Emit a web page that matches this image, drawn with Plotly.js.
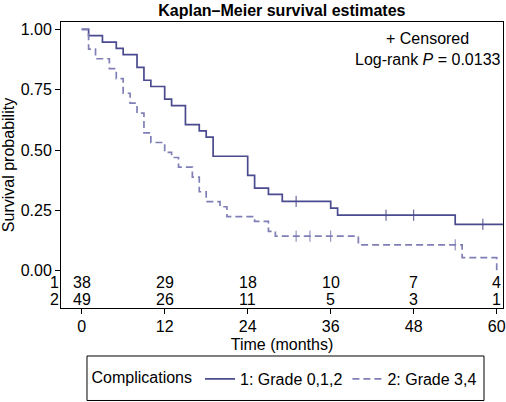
<!DOCTYPE html>
<html>
<head>
<meta charset="utf-8">
<script src="https://cdn.plot.ly/plotly-3.0.1.min.js"></script>
<style>
html,body{margin:0;padding:0;background:#fff;}
#chart{width:506px;height:402px;}
</style>
</head>
<body>
<div id="chart"></div>
<script>
// Group 1: Grade 0,1,2 (Kaplan–Meier steps)
const times1 = [0, 1, 3, 5, 6, 8, 9, 10, 12, 13, 15, 17, 18, 19, 24, 25, 27, 29, 36, 37, 54, 60.9];
const surv1  = [1.000, 0.974, 0.947, 0.921, 0.895, 0.842, 0.789, 0.763, 0.711, 0.684, 0.605, 0.579, 0.553, 0.474, 0.395, 0.342, 0.316, 0.287, 0.259, 0.230, 0.192, 0.192];
const censor1 = [31, 44, 48, 58];

// Group 2: Grade 3,4
const times2 = [0, 1, 2, 4, 5, 6, 7, 8, 9, 10, 12, 13, 14, 16, 17, 18, 20, 21, 25, 27, 28, 40, 55, 60];
const surv2  = [1.000, 0.918, 0.878, 0.837, 0.796, 0.735, 0.694, 0.653, 0.571, 0.531, 0.490, 0.469, 0.429, 0.388, 0.327, 0.286, 0.265, 0.224, 0.204, 0.163, 0.143, 0.107, 0.054, 0.000];
const censor2 = [31, 33, 36, 54];

// Number at risk table
const riskTimes = [0, 12, 24, 36, 48, 60];
const atRisk1 = [38, 29, 18, 10, 7, 4];
const atRisk2 = [49, 26, 11, 5, 3, 1];
const riskRowLabels = ['1', '2'];

const xTicks = [0, 12, 24, 36, 48, 60];
const yTicks = [0, 0.25, 0.5, 0.75, 1];
const yTickText = ['0.00', '0.25', '0.50', '0.75', '1.00'];

const seriesNames = ['1: Grade 0,1,2', '2: Grade 3,4'];
const legendTitle = 'Complications';
const titleText = 'Kaplan–Meier survival estimates';
const noteLines = ['+ Censored', 'Log-rank <i>P</i> = 0.0133'];

function stepValue(ts, ss, t) {
  let v = ss[0];
  for (let i = 0; i < ts.length; i++) { if (ts[i] <= t) v = ss[i]; }
  return v;
}

const FONT = 'Liberation Sans, Arial, Helvetica, sans-serif';
const c1 = '#4a4a8e';
const c2 = '#7f7fb6';

const traces = [
  {x: times1, y: surv1, type: 'scatter', mode: 'lines', line: {shape: 'hv', color: c1, width: 1.7}, name: seriesNames[0]},
  {x: times2, y: surv2, type: 'scatter', mode: 'lines', line: {shape: 'hv', color: c2, width: 1.7, dash: '7px,4px'}, name: seriesNames[1]},
  {x: censor1, y: censor1.map(t => stepValue(times1, surv1, t)), type: 'scatter', mode: 'markers', showlegend: false, hoverinfo: 'skip',
   marker: {symbol: 'line-ns-open', size: 8, color: c1, line: {color: c1, width: 1}}},
  {x: censor2, y: censor2.map(t => stepValue(times2, surv2, t)), type: 'scatter', mode: 'markers', showlegend: false, hoverinfo: 'skip',
   marker: {symbol: 'line-ns-open', size: 8, color: c2, line: {color: c2, width: 1}}}
];

const txt = {family: FONT, size: 16, color: '#000'};
const rowY = [-0.048, -0.118];
const annotations = [];
riskTimes.forEach((t, i) => {
  annotations.push({x: t, y: rowY[0], xref: 'x', yref: 'y', text: String(atRisk1[i]), showarrow: false, font: txt});
  annotations.push({x: t, y: rowY[1], xref: 'x', yref: 'y', text: String(atRisk2[i]), showarrow: false, font: txt});
});
riskRowLabels.forEach((lab, i) => {
  annotations.push({x: -0.002, y: rowY[i], xref: 'paper', yref: 'y', xanchor: 'right', text: lab, showarrow: false, font: txt, borderpad: 0});
});
annotations.push({x: 0.83, y: 0.9406, xref: 'paper', yref: 'paper', xanchor: 'center', yanchor: 'middle', text: noteLines[0], showarrow: false, font: txt});
annotations.push({x: 0.83, y: 0.8706, xref: 'paper', yref: 'paper', xanchor: 'center', yanchor: 'middle', text: noteLines[1], showarrow: false, font: txt});

const layout = {
  width: 506, height: 402,
  margin: {l: 61, r: 3, t: 22, b: 94},
  paper_bgcolor: '#fff', plot_bgcolor: '#fff',
  font: txt,
  title: {text: '<b>' + titleText + '</b>', x: 0.557, xref: 'container', xanchor: 'center', y: 0.975, yref: 'container', yanchor: 'middle',
          font: {family: FONT, size: 16, color: '#000'}},
  xaxis: {range: [-2.99, 60.91], tickvals: xTicks, ticks: 'outside', ticklen: 5, tickcolor: '#000', showgrid: false, zeroline: false,
          showline: true, mirror: true, linecolor: '#000', linewidth: 1, tickfont: {family: FONT, size: 16}, automargin: false,
          ticklabelstandoff: -1,
          title: {text: 'Time (months)', font: {family: FONT, size: 16}, standoff: 4}},
  yaxis: {range: [-0.1545, 1.0302], tickvals: yTicks, ticktext: yTickText, ticks: 'outside', ticklen: 5, tickcolor: '#000', showgrid: false, zeroline: false,
          showline: true, mirror: true, linecolor: '#000', linewidth: 1, tickfont: {family: FONT, size: 16}, automargin: false,
          ticklabelstandoff: 0,
          title: {text: 'Survival probability', font: {family: FONT, size: 16}, standoff: 2}},
  showlegend: true,
  legend: {orientation: 'h', x: 0.508, xanchor: 'center', y: 0.0572, yanchor: 'middle', xref: 'paper', yref: 'container',
           borderwidth: 0, bgcolor: 'rgba(0,0,0,0)', font: {family: FONT, size: 16},
           title: {text: legendTitle, side: 'left', font: {family: FONT, size: 16}}},
  shapes: [{type: 'rect', xref: 'paper', yref: 'paper', x0: 0.0588, x1: 0.957, y0: -0.1678, y1: -0.3234,
            line: {color: '#000', width: 1}, fillcolor: 'rgba(0,0,0,0)'}],
  annotations: annotations
};

Plotly.newPlot('chart', traces, layout, {displayModeBar: false, staticPlot: true});
</script>
</body>
</html>
